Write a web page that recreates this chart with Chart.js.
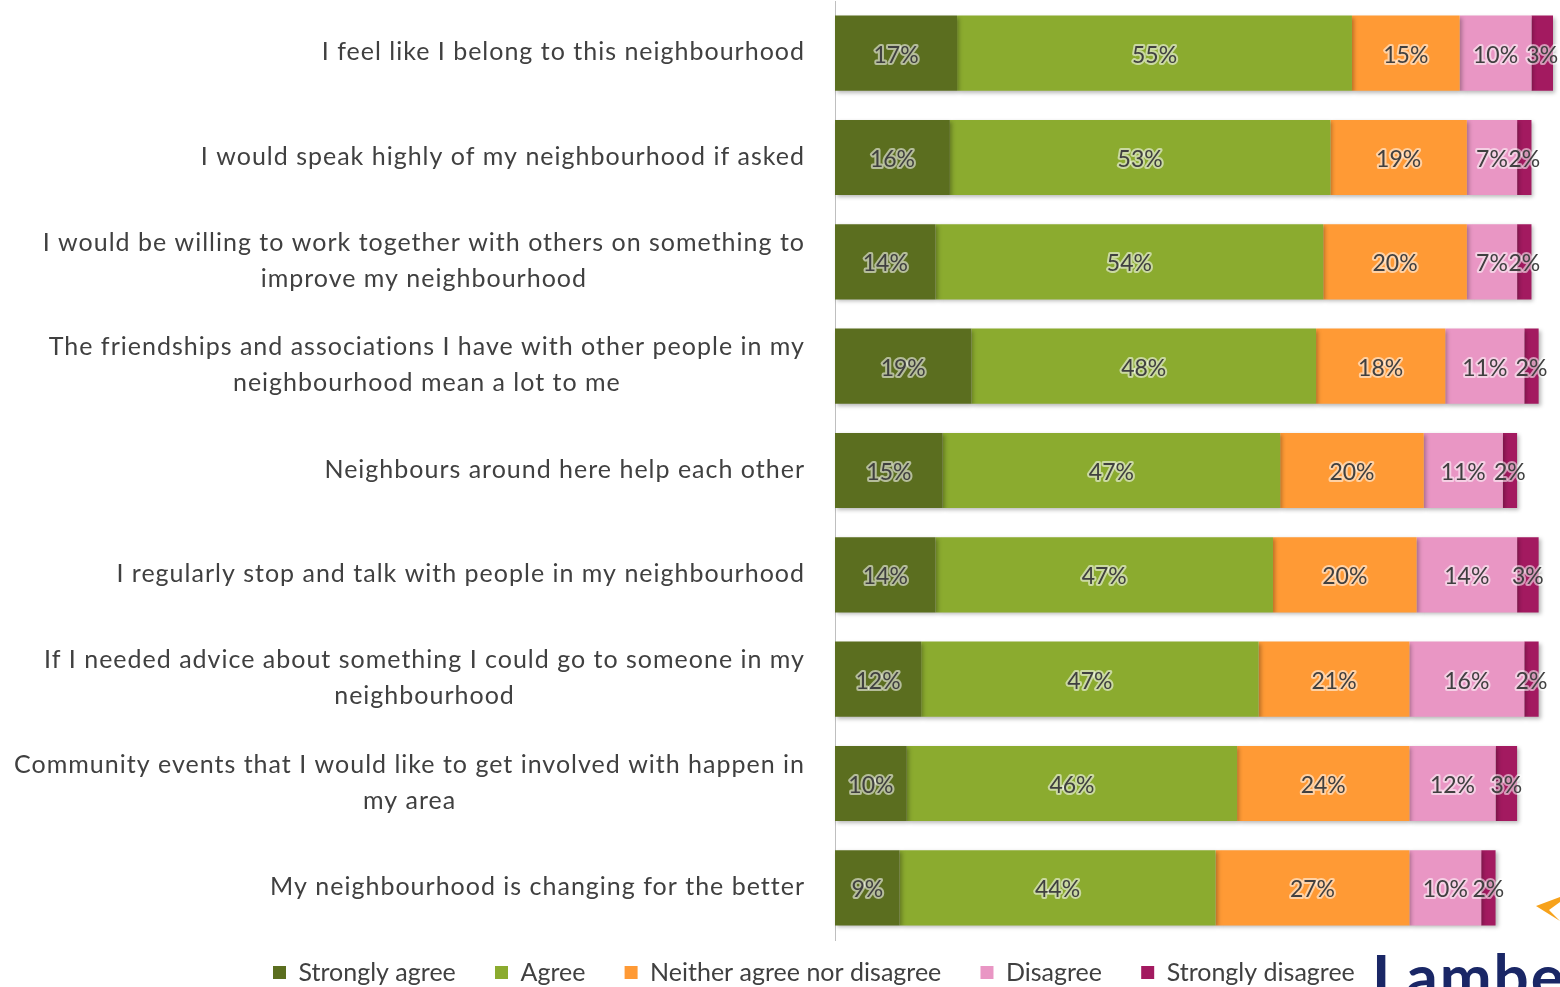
<!DOCTYPE html>
<html>
<head>
<meta charset="utf-8">
<script src="https://cdn.jsdelivr.net/npm/chart.js@4.4.0/dist/chart.umd.min.js"></script>
<style>
    html, body { margin: 0; padding: 0; background: #fff; overflow: hidden; }
    #wrap { position: relative; width: 1560px; height: 987px; }
    #deco { position: absolute; left: 0; top: 0; pointer-events: none; }
</style>
</head>
<body>
<div id="wrap">
    <canvas id="surveyChart" width="1560" height="987"></canvas>
    <svg id="deco" width="1560" height="987">
        <polygon points="1536,906 1560,897 1560,902 1549,910 1560,921" fill="#f7a21b"/>
        <text x="1372" y="999" font-family="Lato" font-weight="bold" font-size="62" letter-spacing="2" fill="#1a2766">Lambeth</text>
    </svg>
</div>
<script>
const statements = [
    'I feel like I belong to this neighbourhood',
    'I would speak highly of my neighbourhood if asked',
    ['I would be willing to work together with others on something to', 'improve my neighbourhood'],
    ['The friendships and associations I have with other people in my', 'neighbourhood mean a lot to me'],
    'Neighbours around here help each other',
    'I regularly stop and talk with people in my neighbourhood',
    ['If I needed advice about something I could go to someone in my', 'neighbourhood'],
    ['Community events that I would like to get involved with happen in', 'my area'],
    'My neighbourhood is changing for the better'
];

const stronglyAgree    = [17, 16, 14, 19, 15, 14, 12, 10, 9];
const agree            = [55, 53, 54, 48, 47, 47, 47, 46, 44];
const neither          = [15, 19, 20, 18, 20, 20, 21, 24, 27];
const disagree         = [10, 7, 7, 11, 11, 14, 16, 12, 10];
const stronglyDisagree = [3, 2, 2, 2, 2, 3, 2, 3, 2];

const FONT = 'Lato';
const TEXT = '#404040';
const PAD_LEFT = 94;

// soft shadow under the bars
const barShadow = {
    id: 'barShadow',
    beforeDatasetsDraw(chart) {
        const ctx = chart.ctx;
        ctx.save();
        ctx.shadowColor = 'rgba(0,0,0,0.28)';
        ctx.shadowBlur = 4;
        ctx.shadowOffsetX = 2;
        ctx.shadowOffsetY = 2;
    },
    afterDatasetsDraw(chart) {
        chart.ctx.restore();
    }
};

// percentage labels in the middle of each segment
const barLabels = {
    id: 'barLabels',
    afterDatasetsDraw(chart) {
        const ctx = chart.ctx;
        ctx.save();
        ctx.font = `23px ${FONT}`;
        ctx.textAlign = 'center';
        ctx.textBaseline = 'middle';
        ctx.lineJoin = 'round';
        chart.data.datasets.forEach((ds, i) => {
            chart.getDatasetMeta(i).data.forEach((bar, j) => {
                const txt = ds.data[j] + '%';
                const x = (bar.x + bar.base) / 2;
                ctx.lineWidth = 4;
                ctx.strokeStyle = 'rgba(255,255,255,0.55)';
                ctx.strokeText(txt, x, bar.y + 2);
                ctx.fillStyle = TEXT;
                ctx.fillText(txt, x, bar.y + 2);
            });
        });
        ctx.restore();
    }
};

// category labels: block right aligned, lines centred on each other
const categoryLabels = {
    id: 'categoryLabels',
    afterDraw(chart) {
        const scale = chart.scales.y;
        const ctx = chart.ctx;
        const lineH = 36;
        ctx.save();
        ctx.font = `25px ${FONT}`;
        ctx.letterSpacing = '1px';
        ctx.fillStyle = TEXT;
        ctx.textAlign = 'center';
        ctx.textBaseline = 'middle';
        chart.data.labels.forEach((label, i) => {
            const lines = Array.isArray(label) ? label : [label];
            const w = Math.max(...lines.map(l => ctx.measureText(l).width));
            const cx = scale.right - 30 - w / 2;
            const y0 = scale.getPixelForTick(i) - (lines.length - 1) * lineH / 2 - 1;
            lines.forEach((l, k) => ctx.fillText(l, cx, y0 + k * lineH));
        });
        ctx.restore();
    }
};

function makeSet(label, data, color) {
    return {
        label: label,
        data: data,
        backgroundColor: color,
        borderWidth: 0,
        categoryPercentage: 1,
        barPercentage: 0.72,
        clip: false
    };
}

const ctx = document.getElementById('surveyChart').getContext('2d');
new Chart(ctx, {
    type: 'bar',
    data: {
        labels: statements,
        datasets: [
            makeSet('Strongly agree', stronglyAgree, '#5b6e1f'),
            makeSet('Agree', agree, '#8bab2f'),
            makeSet('Neither agree nor disagree', neither, '#ff9a35'),
            makeSet('Disagree', disagree, '#e996c4'),
            makeSet('Strongly disagree', stronglyDisagree, '#a31a60')
        ]
    },
    options: {
        indexAxis: 'y',
        responsive: false,
        animation: false,
        layout: { padding: { left: PAD_LEFT, right: 7, top: 1, bottom: -8 } },
        scales: {
            x: {
                stacked: true,
                min: 0,
                max: 100,
                display: false
            },
            y: {
                stacked: true,
                grid: { display: false },
                border: { display: true, color: '#bfbfbf', width: 1 },
                ticks: { display: false },
                afterFit(scale) { scale.width = 835 - PAD_LEFT; }
            }
        },
        plugins: {
            legend: {
                position: 'bottom',
                labels: {
                    boxWidth: 13,
                    boxHeight: 13,
                    padding: 20,
                    color: TEXT,
                    font: { family: FONT, size: 25 },
                    generateLabels(chart) {
                        const items = Chart.defaults.plugins.legend.labels.generateLabels(chart);
                        items.forEach(it => { it.text = it.text + '   '; });
                        return items;
                    }
                }
            },
            tooltip: { enabled: false }
        }
    },
    plugins: [barShadow, barLabels, categoryLabels]
});
</script>
</body>
</html>
